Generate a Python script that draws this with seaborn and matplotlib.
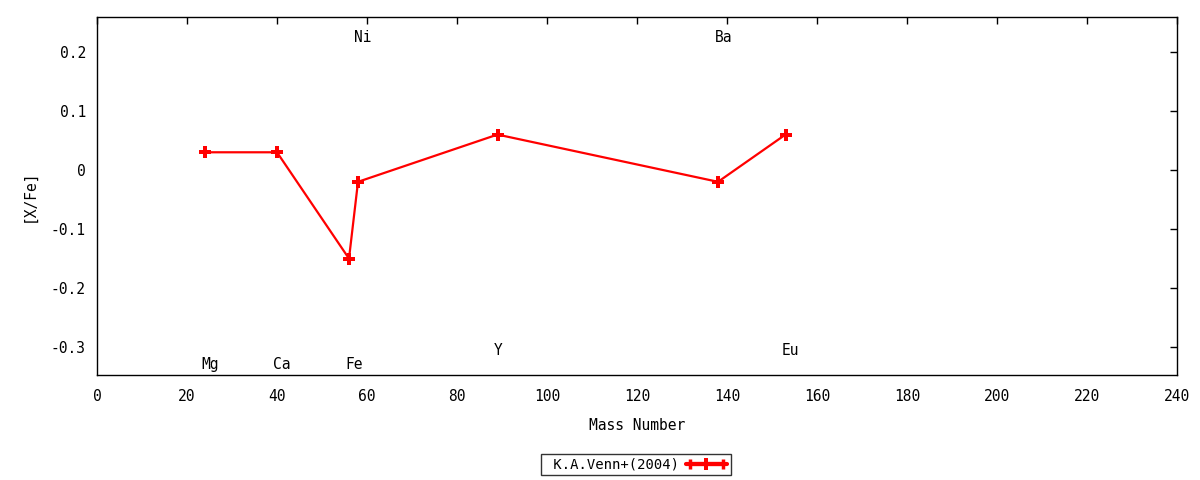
import pandas as pd
import matplotlib
matplotlib.use('Agg')
import matplotlib.pyplot as plt
import seaborn as sns
from matplotlib.lines import Line2D
from matplotlib.legend_handler import HandlerLine2D, HandlerTuple

# Du lieu doc tu hinh
elements = ['Mg', 'Ca', 'Fe', 'Ni', 'Y', 'Ba', 'Eu']
mass_number = [24, 40, 56, 58, 89, 138, 153]
x_fe = [0.03, 0.03, -0.15, -0.02, 0.06, -0.02, 0.06]
label_y = [-0.33, -0.33, -0.33, 0.225, -0.305, 0.225, -0.305]
x_ticks = [0, 20, 40, 60, 80, 100, 120, 140, 160, 180, 200, 220, 240]
y_ticks = [-0.3, -0.2, -0.1, 0, 0.1, 0.2]
y_tick_labels = ['-0.3', '-0.2', '-0.1', '0', '0.1', '0.2']
series_name = 'K.A.Venn+(2004)'

df = pd.DataFrame({'element': elements, 'mass': mass_number, 'xfe': x_fe})

sns.set_style('white')
plt.rcParams['font.family'] = ['DejaVu Sans Mono', 'DejaVu Sans']
plt.rcParams['font.size'] = 10
plt.rcParams['text.color'] = 'black'
plt.rcParams['axes.labelcolor'] = 'black'

fig = plt.figure(figsize=(12, 4.8), dpi=100)
ax = fig.add_axes([97 / 1200, 1 - 375 / 480, 1080 / 1200, 358 / 480])

sns.lineplot(data=df, x='mass', y='xfe', ax=ax, color='red', linewidth=1.6,
             marker='P', markersize=8, markeredgewidth=0, sort=False)

for el, m, ly in zip(elements, mass_number, label_y):
    ax.text(m - 0.8, ly, el, ha='left', va='center', fontsize=10.5, color='black')

ax.set_xlim(0, 240)
ax.set_ylim(-0.347, 0.259)
ax.set_xticks(x_ticks)
ax.set_yticks(y_ticks)
ax.set_yticklabels(y_tick_labels)
ax.tick_params(direction='in', top=True, right=True, length=5, width=1,
               labelsize=10.5, colors='black')
ax.tick_params(axis='x', pad=10)
ax.tick_params(axis='y', pad=8)
for s in ax.spines.values():
    s.set_color('black')
    s.set_linewidth(1)

ax.set_xlabel('Mass Number', fontsize=10.5, labelpad=10, color='black')
ax.set_ylabel('[X/Fe]', fontsize=10.5, labelpad=10, color='black')

# legend giong kieu gnuplot
h_ends = Line2D([], [], color='red', linewidth=3, marker='|', markersize=7, markeredgewidth=2.5)
h_mid = Line2D([], [], color='red', linewidth=3, marker='P', markersize=8, markeredgewidth=0)
leg = fig.legend([(h_ends, h_mid)], [' ' + series_name], loc='center',
                 bbox_to_anchor=(636 / 1200, 1 - 464.5 / 480),
                 handler_map={h_ends: HandlerLine2D(numpoints=2),
                              h_mid: HandlerLine2D(numpoints=1),
                              tuple: HandlerTuple(ndivide=1)},
                 markerfirst=False, fancybox=False, frameon=True,
                 fontsize=10, handlelength=3.0, borderpad=0.25,
                 handletextpad=0.5, borderaxespad=0)
leg.get_frame().set_edgecolor('black')
leg.get_frame().set_linewidth(1)
for t in leg.get_texts():
    t.set_color('black')

fig.savefig('out.png', dpi=100)
